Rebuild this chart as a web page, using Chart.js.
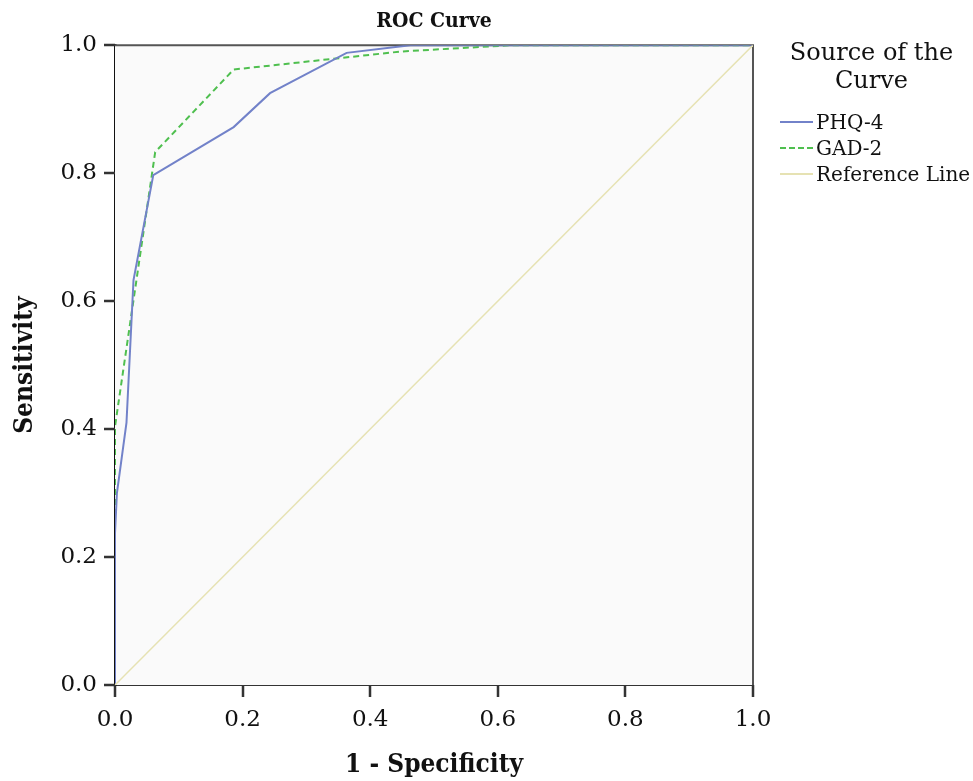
<!DOCTYPE html>
<html>
<head>
<meta charset="utf-8">
<script src="https://cdn.jsdelivr.net/npm/chart.js@4.4.1/dist/chart.umd.min.js"></script>
<style>
  html, body { margin: 0; padding: 0; background: #fff; }
  #wrap { position: relative; width: 973px; height: 781px; }
  #legend { position: absolute; left: 780px; top: 36px; width: 193px; font-family: "DejaVu Serif", serif; color: #111; }
  #legend .ttl { text-align: center; font-size: 24px; line-height: 28px; margin-left: -10px; margin-top: 2px; }
  #legend .item { display: flex; align-items: center; font-size: 20px; line-height: 26px; }
  #legend .item span.sw { display: inline-block; width: 33px; height: 0; margin-right: 3px; }
  #legend .items { margin-top: 15px; }
</style>
</head>
<body>
<div id="wrap">
  <canvas id="roc"></canvas>
  <div id="legend">
    <div class="ttl">Source of the<br>Curve</div>
    <div class="items">
      <div class="item"><span class="sw" style="border-top: 2px solid #7282c9;"></span>PHQ-4</div>
      <div class="item"><span class="sw" style="border-top: 2px dashed #4fbf4f;"></span>GAD-2</div>
      <div class="item"><span class="sw" style="border-top: 2px solid #e6e2b3;"></span>Reference Line</div>
    </div>
  </div>
</div>
<script>
// values (1 - specificity, sensitivity)
const phqX = [0, 0, 0.003, 0.018, 0.029, 0.060, 0.186, 0.243, 0.363, 0.463, 1.0];
const phqY = [0, 0.237, 0.30, 0.41, 0.633, 0.797, 0.872, 0.925, 0.988, 1.0, 1.0];
const gadX = [0, 0, 0.063, 0.186, 0.447, 0.62, 1.0];
const gadY = [0, 0.404, 0.833, 0.962, 0.99, 1.0, 1.0];
const refX = [0, 1];
const refY = [0, 1];
const tickStep = 0.2;

const toPoints = (xs, ys) => xs.map((x, i) => ({ x: x, y: ys[i] }));

Chart.defaults.font.family = '"DejaVu Serif", serif';
Chart.defaults.color = '#111';

const boldFont = '"DejaVu Serif Condensed", "DejaVu Serif", serif';

// plot background, top/right frame and outward tick marks
const frame = {
    id: 'frame',
    beforeDatasetsDraw(chart) {
        const { ctx, chartArea: a } = chart;
        ctx.save();
        ctx.fillStyle = '#fafafa';
        ctx.fillRect(a.left, a.top, a.right - a.left, a.bottom - a.top);
        ctx.strokeStyle = '#555';
        ctx.lineWidth = 2;
        ctx.beginPath();
        ctx.moveTo(a.left, a.top);
        ctx.lineTo(a.right, a.top);
        ctx.lineTo(a.right, a.bottom);
        ctx.stroke();
        ctx.restore();
    },
    afterDraw(chart) {
        const { ctx, chartArea: a } = chart;
        const xs = chart.scales.x, ys = chart.scales.y;
        ctx.save();
        ctx.strokeStyle = '#333';
        ctx.lineWidth = 2.5;
        ctx.beginPath();
        xs.ticks.forEach(t => {
            const px = Math.round(xs.getPixelForValue(t.value));
            ctx.moveTo(px, a.bottom);
            ctx.lineTo(px, a.bottom + 12);
        });
        ys.ticks.forEach(t => {
            const py = Math.round(ys.getPixelForValue(t.value));
            ctx.moveTo(a.left, py);
            ctx.lineTo(a.left - 11, py);
        });
        ctx.stroke();
        ctx.restore();
    }
};

const ctx = document.getElementById('roc').getContext('2d');
new Chart(ctx, {
    type: 'line',
    data: {
        datasets: [
            {
                label: 'Reference Line',
                data: toPoints(refX, refY),
                borderColor: '#e6e2b3',
                borderWidth: 1.5,
                pointRadius: 0,
                tension: 0
            },
            {
                label: 'PHQ-4',
                data: toPoints(phqX, phqY),
                borderColor: '#7282c9',
                borderWidth: 2,
                pointRadius: 0,
                tension: 0
            },
            {
                label: 'GAD-2',
                data: toPoints(gadX, gadY),
                borderColor: '#4fbf4f',
                borderWidth: 2,
                borderDash: [6, 4],
                pointRadius: 0,
                tension: 0
            }
        ]
    },
    options: {
        responsive: true,
        maintainAspectRatio: false,
        animation: false,
        layout: { padding: { left: 0, right: 220, top: 0, bottom: 0 } },
        plugins: {
            legend: { display: false },
            tooltip: { enabled: false },
            title: {
                display: true,
                text: 'ROC Curve',
                fullSize: false,
                font: { size: 21, weight: 'bold', family: boldFont },
                padding: { top: 9, bottom: 11 }
            }
        },
        scales: {
            x: {
                type: 'linear',
                min: 0,
                max: 1,
                afterFit: (s) => { s.height = 96; },
                ticks: {
                    stepSize: tickStep,
                    font: { size: 23 },
                    padding: 11,
                    maxRotation: 0,
                    callback: (v) => Number(v).toFixed(1)
                },
                grid: { display: true, drawOnChartArea: false, drawTicks: true, tickLength: 10, tickColor: '#333', tickWidth: 2, color: '#333', lineWidth: 2 },
                border: { display: true, color: '#333', width: 2 },
                title: {
                    display: true,
                    text: '1 - Specificity',
                    font: { size: 26, weight: 'bold', family: boldFont },
                    padding: { top: 0, bottom: 0 }
                }
            },
            y: {
                type: 'linear',
                min: 0,
                max: 1,
                afterFit: (s) => { s.width = 115; },
                ticks: {
                    stepSize: tickStep,
                    font: { size: 23 },
                    padding: 8,
                    callback: (v) => Number(v).toFixed(1)
                },
                grid: { display: true, drawOnChartArea: false, drawTicks: true, tickLength: 10, tickColor: '#333', tickWidth: 2, color: '#333', lineWidth: 2 },
                border: { display: true, color: '#111', width: 2.5 },
                title: {
                    display: true,
                    text: 'Sensitivity',
                    font: { size: 26, weight: 'bold', family: boldFont },
                    padding: { top: 10, bottom: 10 }
                }
            }
        }
    },
    plugins: [frame]
});
</script>
</body>
</html>
